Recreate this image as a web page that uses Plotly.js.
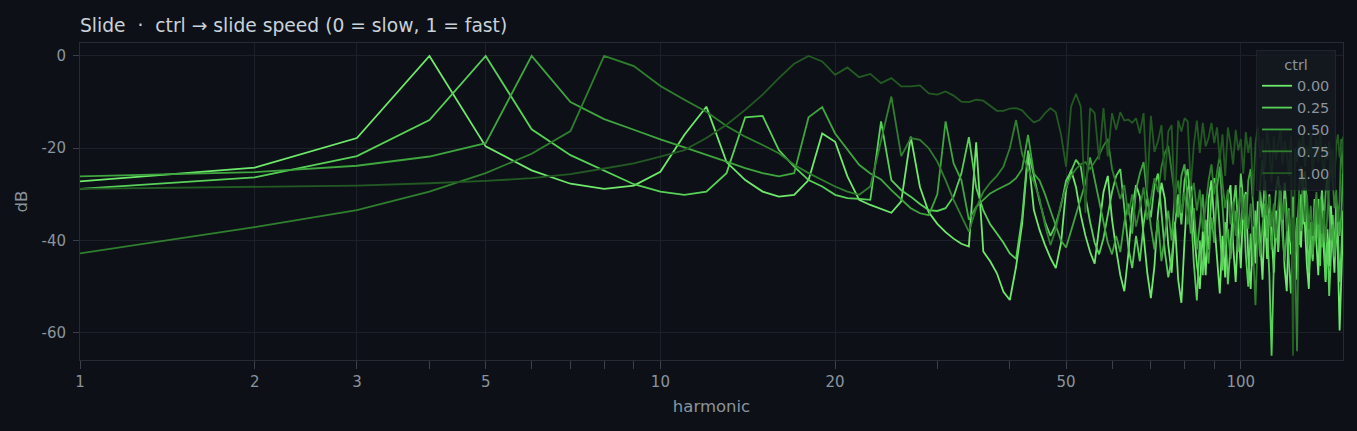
<!DOCTYPE html>
<html>
<head>
<meta charset="utf-8">
<script src="https://cdn.plot.ly/plotly-3.0.1.min.js"></script>
<style>
  html, body { margin: 0; padding: 0; background: #0d1117; }
  #chart { width: 1357px; height: 431px; }
</style>
</head>
<body>
<div id="chart"></div>
<script>
const THEME = {
  paper: "#0d1117",
  plot: "#0d1117",
  title: "#c9d1d9",
  muted: "#8b949e",
  grid: "#1c2129",
  frame: "#262c35",
  fontFamily: "\"DejaVu Sans\", \"Noto Sans\", sans-serif",
};

// harmonic index 1..150
const harmonics = Array.from({ length: 150 }, (_, i) => i + 1);

const ctrlLabels = ["0.00", "0.25", "0.50", "0.75", "1.00"];
const lineColors = ["#6ee96b", "#58d158", "#3fa63f", "#2f7f2f", "#235a23"];

const xTickVals = [1, 2, 3, 5, 10, 20, 50, 100];
const xMinorVals = [4, 6, 7, 8, 9, 30, 40, 60, 70, 80, 90];
const yTickVals = [0, -20, -40, -60];
const yTickText = ["0", "-20", "-40", "-60"];

// dB per harmonic
const db000 = [
  -27.2, -24.2, -17.8, 0, -19.6, -24.8, -27.7, -28.8, -28.1, -25.1,
  -17.1, -11.0, -23.0, -26.9, -29.4, -30.5, -30.1, -26.9, -16.8, -18.6,
  -26.1, -31.2, -32.3, -33.2, -34.0, -31.5, -17.5, -28.4, -33.9, -36.4,
  -38.2, -39.6, -40.7, -41.3, -18.7, -42.4, -44.5, -47.1, -51.1, -52.9,
  -45.7, -36.4, -21.3, -33.4, -37.7, -41.0, -43.8, -46.0, -40.6, -29.0,
  -24.7, -28.4, -34.5, -39.0, -42.5, -45.0, -37.0, -29.5, -26.0, -35.5,
  -42.0, -47.5, -51.0, -43.0, -33.0, -28.0, -30.5, -39.0, -47.0, -52.5,
  -45.5, -34.0, -27.5, -31.0, -41.0, -47.0, -36.0, -48.5, -53.5, -40.0,
  -29.0, -26.5, -37.5, -45.0, -50.5, -38.0, -47.5, -31.0, -27.0, -36.0,
  -44.5, -51.5, -39.0, -48.0, -30.5, -28.0, -41.0, -49.0, -36.5, -46.0,
  -32.0, -29.5, -43.5, -50.5, -37.0, -45.0, -31.5, -40.0, -48.5, -34.0,
  -44.0, -30.0, -38.5, -47.0, -33.5, -42.5, -29.5, -36.0, -46.0, -51.0,
  -35.5, -43.0, -30.5, -39.0, -48.5, -33.0, -41.5, -28.5, -37.5, -45.5,
  -50.5, -36.0, -44.0, -31.0, -40.5, -47.5, -34.5, -29.0, -42.0, -49.0,
  -37.5, -45.5, -32.5, -40.0, -47.0, -35.0, -43.5, -59.5, -45.0, -36.5,
];

const db025 = [
  -28.8, -26.3, -21.7, -13.9, 0, -15.9, -21.5, -24.9, -27.8, -29.4,
  -30.1, -29.4, -25.4, -13.3, -13.0, -20.4, -24.0, -26.9, -28.3, -30.1,
  -30.8, -31.0, -31.2, -14.2, -26.9, -29.1, -30.5, -32.1, -33.4, -33.6,
  -33.0, -30.5, -25.5, -17.6, -28.5, -33.5, -36.5, -38.5, -40.5, -42.8,
  -44.0, -35.0, -20.5, -26.0, -31.5, -36.0, -39.0, -36.5, -32.5, -27.0,
  -25.0, -22.5, -24.0, -30.5, -36.0, -40.5, -43.0, -39.5, -34.0, -29.5,
  -26.0, -24.5, -33.0, -41.5, -46.0, -39.0, -44.5, -36.5, -31.0, -35.0,
  -28.0, -25.5, -34.0, -42.5, -48.0, -44.0, -37.0, -30.0, -36.5, -27.0,
  -24.5, -32.5, -45.0, -53.0, -40.0, -47.5, -35.5, -42.0, -30.0, -26.5,
  -29.0, -38.5, -46.5, -36.0, -49.5, -41.0, -33.0, -28.0, -37.5, -25.5,
  -31.5, -43.0, -50.0, -38.5, -45.5, -33.5, -40.5, -29.5, -35.0, -27.0,
  -39.0, -47.5, -65.0, -45.0, -36.5, -42.0, -31.5, -38.0, -27.5, -34.0,
  -44.5, -51.5, -40.0, -46.0, -35.0, -41.0, -30.0, -36.5, -28.5, -39.5,
  -47.0, -37.0, -44.5, -33.0, -40.0, -31.0, -45.5, -29.5, -35.5, -48.5,
  -39.5, -52.0, -42.0, -34.5, -44.0, -31.5, -38.5, -49.0, -42.5, -33.5,
];

const db050 = [
  -26.1, -25.2, -23.8, -21.8, -18.9, 0, -10.0, -13.7, -16.0, -18.1,
  -19.8, -21.5, -22.9, -24.3, -25.4, -26.1, -25.4, -13.3, -11.1, -16.8,
  -20.4, -23.6, -25.5, -26.8, -29.1, -31.2, -33.0, -34.1, -34.5, -30.0,
  -14.2, -23.3, -26.9, -35.5, -32.7, -31.2, -29.8, -29.0, -28.3, -27.6,
  -26.5, -24.5, -17.1, -25.5, -27.0, -30.0, -33.5, -37.0, -40.0, -41.5,
  -38.0, -34.5, -31.0, -27.5, -22.0, -26.5, -31.5, -36.0, -40.5, -43.0,
  -39.0, -42.5, -36.0, -32.0, -38.5, -29.0, -25.5, -23.0, -30.5, -37.0,
  -42.0, -35.5, -44.5, -39.0, -33.5, -40.0, -29.5, -35.0, -26.0, -23.5,
  -31.0, -38.5, -33.0, -42.0, -36.5, -30.0, -39.5, -45.0, -35.0, -40.5,
  -28.5, -24.0, -32.5, -41.0, -37.5, -44.0, -38.0, -33.5, -42.5, -36.0,
  -30.5, -38.5, -27.0, -24.5, -34.0, -40.5, -36.5, -43.5, -37.0, -32.0,
  -39.5, -34.0, -42.0, -36.0, -29.0, -26.0, -31.5, -39.0, -44.5, -38.5,
  -33.0, -40.5, -35.0, -42.5, -37.0, -31.0, -38.0, -26.5, -25.0, -34.5,
  -41.0, -36.0, -43.0, -38.5, -32.0, -39.5, -34.0, -41.5, -37.0, -29.5,
  -26.0, -33.5, -40.0, -36.5, -43.5, -38.0, -32.5, -39.0, -34.5, -24.5,
];

const db075 = [
  -42.8, -37.1, -33.4, -29.4, -25.4, -21.2, -16.3, 0, -2.2, -6.5,
  -9.5, -12.1, -15.2, -17.5, -19.3, -21.1, -23.6, -25.4, -26.9, -28.3,
  -29.4, -30.1, -28.3, -18.0, -8.8, -21.7, -17.8, -18.2, -20.0, -22.9,
  -26.9, -31.2, -34.8, -38.1, -33.0, -29.5, -27.5, -26.0, -24.0, -20.0,
  -13.9, -21.3, -24.5, -27.3, -30.9, -36.7, -41.0, -37.5, -32.0, -28.5,
  -26.0, -24.5, -23.5, -23.0, -24.5, -23.0, -21.5, -19.5, -18.0, -24.5,
  -27.5, -31.0, -28.0, -34.5, -30.0, -37.0, -33.0, -28.5, -35.5, -31.0,
  -26.5, -29.5, -24.0, -21.0, -19.5, -25.0, -30.5, -27.0, -34.0, -29.5,
  -36.5, -31.0, -27.5, -33.5, -29.0, -38.0, -32.5, -27.0, -23.5, -30.0,
  -25.0, -21.5, -27.5, -33.0, -29.0, -36.5, -31.5, -39.0, -34.0, -28.5,
  -35.5, -30.0, -37.5, -32.0, -42.0, -54.0, -38.5, -27.5, -22.5, -29.0,
  -34.5, -30.5, -37.0, -32.0, -39.5, -33.0, -28.0, -35.5, -31.0, -38.0,
  -33.5, -40.0, -35.0, -44.0, -64.0, -29.5, -24.0, -31.5, -36.0, -30.0,
  -37.5, -32.5, -39.0, -34.0, -29.5, -36.5, -31.0, -38.5, -33.5, -40.5,
  -35.0, -28.0, -20.5, -27.5, -33.0, -29.0, -36.0, -31.5, -18.0, -25.5,
];

const db100 = [
  -28.8, -28.3, -28.1, -27.6, -27.1, -26.5, -25.6, -24.4, -23.3, -21.8,
  -20.4, -17.8, -14.9, -11.7, -8.4, -4.8, -1.7, 0, -1.2, -4.1,
  -2.5, -4.6, -3.9, -5.9, -4.8, -6.6, -6.6, -6.4, -8.1, -8.4,
  -7.7, -8.6, -9.9, -10.0, -9.5, -9.7, -10.8, -11.9, -11.9, -11.4,
  -11.3, -11.8, -13.2, -14.4, -13.9, -12.4, -11.3, -12.2, -17.0, -24.0,
  -11.0, -8.2, -11.0, -34.0, -11.3, -12.4, -22.5, -11.3, -21.8, -12.4,
  -16.0, -12.2, -14.0, -13.8, -14.5, -13.5, -16.8, -12.4, -29.0, -13.0,
  -20.8, -18.5, -15.0, -27.0, -16.4, -15.0, -34.0, -14.0, -16.4, -13.5,
  -14.2, -28.3, -19.3, -14.0, -21.0, -14.5, -19.6, -17.8, -14.5, -18.9,
  -15.5, -22.5, -17.0, -26.0, -15.5, -19.0, -23.5, -16.0, -20.5, -18.0,
  -25.5, -16.5, -21.0, -17.5, -30.5, -19.0, -15.5, -22.0, -18.0, -24.5,
  -16.5, -20.0, -27.5, -17.5, -22.5, -19.0, -16.0, -23.5, -18.5, -21.0,
  -26.0, -17.5, -65.0, -20.0, -23.0, -18.0, -21.5, -16.5, -24.0, -19.5,
  -22.0, -17.0, -25.5, -20.5, -18.0, -23.0, -16.5, -21.5, -27.0, -19.0,
  -22.5, -18.5, -24.5, -20.0, -26.5, -19.5, -17.0, -22.0, -20.5, -17.5,
];

const seriesValues = [db000, db025, db050, db075, db100];

function spectrumTrace(values, i) {
  return {
    type: "scatter",
    mode: "lines",
    x: harmonics,
    y: values,
    name: ctrlLabels[i],
    line: { color: lineColors[i], width: 1.8 },
    hovertemplate: "h=%{x}<br>%{y:.1f} dB<extra></extra>",
  };
}

const traces = seriesValues.map(spectrumTrace);

const layout = {
  width: 1357,
  height: 431,
  paper_bgcolor: THEME.paper,
  plot_bgcolor: THEME.plot,
  font: { family: THEME.fontFamily, color: THEME.muted, size: 15 },
  margin: { l: 80, r: 14, t: 43, b: 71 },
  title: {
    text: "Slide  ·  ctrl → slide speed (0 = slow, 1 = fast)",
    x: 0, xref: "paper", xanchor: "left",
    y: 0.942, yref: "container", yanchor: "middle",
    font: { size: 18.7, color: THEME.title },
  },
  showlegend: true,
  legend: {
    title: { text: "ctrl", side: "top center", font: { size: 14.5, color: THEME.muted } },
    x: 0.9945, xanchor: "right",
    y: 0.978, yanchor: "top",
    bgcolor: "rgba(21,26,33,0.82)",
    bordercolor: "rgba(40,46,54,0.6)",
    borderwidth: 1,
    font: { size: 14.5, color: THEME.muted },
  },
  xaxis: {
    type: "log",
    range: [0, Math.log10(150)],
    tickmode: "array",
    tickvals: xTickVals,
    ticktext: xTickVals.map(String),
    ticks: "outside",
    ticklen: 8,
    tickcolor: "#3a414b",
    gridcolor: THEME.grid,
    showline: true,
    linecolor: THEME.frame,
    mirror: true,
    zeroline: false,
    minor: {
      tickmode: "array",
      tickvals: xMinorVals,
      ticks: "outside",
      ticklen: 8,
      tickcolor: "#3a414b",
      showgrid: false,
    },
    title: { text: "harmonic", font: { size: 16.5, color: THEME.muted }, standoff: 10 },
  },
  yaxis: {
    range: [-65.9, 2.8],
    tickmode: "array",
    tickvals: yTickVals,
    ticktext: yTickText,
    ticks: "outside",
    ticklen: 6,
    tickcolor: "#3a414b",
    ticklabelstandoff: 4,
    gridcolor: THEME.grid,
    showline: true,
    linecolor: THEME.frame,
    mirror: true,
    zeroline: false,
    title: { text: "dB", font: { size: 16.5, color: THEME.muted }, standoff: 9 },
  },
};

Plotly.newPlot("chart", traces, layout, { displayModeBar: false, responsive: false });
</script>
</body>
</html>
